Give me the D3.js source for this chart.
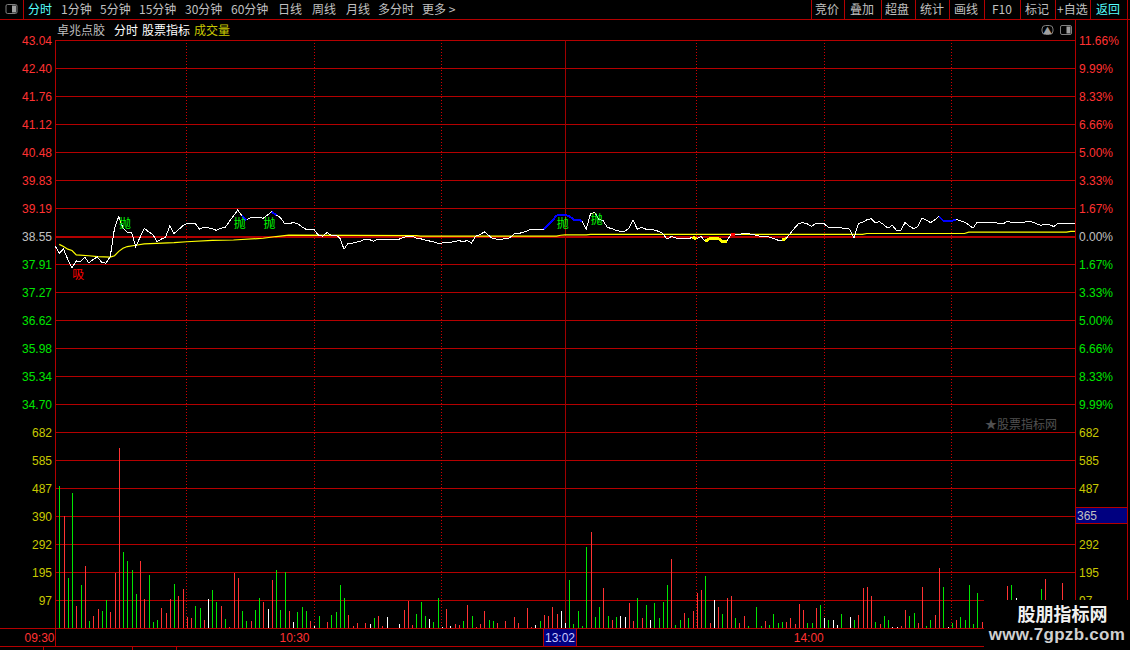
<!DOCTYPE html>
<html><head><meta charset="utf-8">
<script src="https://cdn.jsdelivr.net/npm/d3@7/dist/d3.min.js"></script>
<style>
html,body{margin:0;padding:0;background:#000;overflow:hidden}
svg{display:block}
text{font-family:"Liberation Sans","Noto Sans CJK SC",sans-serif;font-size:12px}
.cjk{font-family:"Noto Sans CJK SC",sans-serif}
</style></head><body><svg id="c" width="1130" height="650"></svg>
<script>
// ---------- data ----------
const leftLabels = ["43.04","42.40","41.76","41.12","40.48","39.83","39.19","38.55","37.91","37.27","36.62","35.98","35.34","34.70","682","585","487","390","292","195","97",""];
const rightLabels = ["11.66%","9.99%","8.33%","6.66%","5.00%","3.33%","1.67%","0.00%","1.67%","3.33%","5.00%","6.66%","8.33%","9.99%","682","585","487","390","292","195","97",""];
const timeTicks = [0,60,181];
const timeLabels = ["09:30","10:30","14:00"];
const sessionLines = [31,61,91,151,181,211];
const crosshairTime = "13:02";
const crosshairVolume = "365";
// minute index 0..240
const prices = [
38.35,38.18,38.27,38.04,37.84,38.00,37.99,38.09,37.95,38.04,
38.09,37.97,37.95,38.10,38.75,39.02,38.75,38.66,38.66,38.33,
38.54,38.75,38.67,38.61,38.44,38.50,38.54,38.80,38.63,38.71,
38.80,38.86,38.86,38.86,38.73,38.77,38.76,38.74,38.70,38.75,
38.77,38.90,39.03,39.17,39.03,38.94,38.99,39.00,39.00,38.98,
39.05,39.13,39.05,39.00,38.86,38.85,38.88,38.86,38.79,38.73,
38.71,38.71,38.59,38.57,38.65,38.59,38.59,38.53,38.27,38.41,
38.41,38.43,38.46,38.50,38.49,38.45,38.50,38.50,38.50,38.50,
38.50,38.50,38.54,38.57,38.57,38.52,38.51,38.48,38.46,38.44,
38.41,38.41,38.42,38.43,38.44,38.47,38.44,38.47,38.41,38.57,
38.60,38.67,38.59,38.51,38.50,38.50,38.51,38.53,38.62,38.63,
38.65,38.68,38.73,38.73,38.73,38.73,38.82,38.92,39.04,39.05,
39.05,39.03,38.95,38.94,38.92,38.73,39.08,39.11,38.95,38.92,
38.76,38.75,38.70,38.68,38.68,38.74,38.94,38.73,38.77,38.73,
38.73,38.71,38.68,38.63,38.50,38.56,38.53,38.51,38.51,38.51,
38.54,38.51,38.56,38.45,38.51,38.52,38.52,38.45,38.45,38.60,
38.60,38.61,38.63,38.63,38.61,38.59,38.56,38.56,38.55,38.52,
38.48,38.48,38.51,38.63,38.75,38.86,38.88,38.85,38.79,38.86,
38.86,38.85,38.77,38.77,38.77,38.76,38.74,38.73,38.52,38.85,
38.89,38.94,38.97,38.88,38.90,38.83,38.75,38.82,38.70,38.70,
38.88,38.80,38.74,38.79,38.98,38.94,38.88,38.94,39.02,38.92,
38.92,38.92,38.95,38.92,38.89,38.83,38.75,38.89,38.89,38.89,
38.87,38.89,38.86,38.85,38.90,38.89,38.89,38.89,38.89,38.91,
38.89,38.85,38.82,38.84,38.83,38.79,38.86,38.86,38.86,38.86,38.86];
// average line: minutes where it changes and its level there
const avgMinutes = [1,2,3,4,5,8,10,13,14,15,16,17,19,21,28,31,37,42,49,52,55,85,86,118,119,120,125,126,190,191,214,215,238,239,240];
const avgPrices = [38.38,38.33,38.27,38.24,38.14,38.12,38.10,38.09,38.12,38.22,38.29,38.33,38.36,38.39,38.42,38.44,38.47,38.48,38.52,38.56,38.59,38.58,38.57,38.57,38.59,38.60,38.60,38.61,38.61,38.63,38.63,38.66,38.66,38.68,38.68];
// minute 1..240
const volumes = [
495,391,175,471,78,151,217,26,43,67,
60,99,57,192,626,265,234,203,120,234,
102,186,22,29,71,53,102,154,113,137,
39,36,78,71,29,102,133,92,78,32,
5,192,175,60,26,26,64,106,92,67,
168,203,64,196,60,22,57,73,59,24,
7,42,0,21,45,56,150,104,45,7,
17,0,17,14,35,42,7,38,0,0,
14,63,94,10,49,90,42,31,21,104,
3,66,7,14,10,24,80,42,3,14,
59,28,24,17,0,24,0,38,17,0,
70,3,10,24,45,42,73,49,59,17,
167,14,59,7,282,334,38,73,139,42,
28,38,42,38,87,24,104,35,80,28,
87,35,90,150,240,10,28,52,35,59,
122,132,181,17,97,73,49,104,111,35,
17,42,7,0,73,7,24,10,49,17,
21,21,35,14,84,63,17,17,70,80,
35,28,28,10,49,0,38,28,45,139,
143,111,21,14,42,28,3,3,7,63,
42,52,17,143,7,28,45,209,143,3,
17,28,38,28,150,14,122,21,0,0,
0,0,0,146,150,104,0,0,0,0,
0,136,171,0,0,0,157,0,0,0];
const volumeKinds = (
"grggrgrgrr"+"ggrrrggggr"+"rgggrrrgrr"+"rrggrwggrg"+"rrrggrggrw"+
"rgggrwgggr"+"wg-rggggrr"+"r-rwgrrw--"+"wrrrgggwgg"+"wrwrrgrgrr"+
"rggr-r-rr-"+"rrwgrrrrww"+"gggggrggrg"+"rgwwrrgrgw"+"ggggrggrgr"+
"rrgrwrgrrg"+"rrg-ggrggg"+"grrrrrggrg"+"wgwwg-wgrr"+"rrgrggwwrr"+
"ggrrggrrgw"+"grgggggrg-"+"---rgw----"+"-gr---r---").split("");
const sellRuns = [[44,45],[51,52],[115,124],[208,212]];
const bandRuns = [[150,151],[153,158],[171,172]];
const buyRuns = [[159,160]];
const sellMarks = [16,43,50,119,127];
const sellMarkPrices = [38.86,38.86,38.86,38.86,38.95];
const buyMarks = [5];
const buyMarkPrices = [37.69];
const toolbarLeft = ["分时","1分钟","5分钟","15分钟","30分钟","60分钟","日线","周线","月线","多分时","更多 >"];
const toolbarRight = ["竞价","叠加","超盘","统计","画线","F10","标记","+自选","返回"];
const titleParts = ["卓兆点胶","分时","股票指标","成交量"];

// ---------- layout ----------
const RED="#b40000",TXT="#ff3232",GRN="#00e600",GRY="#c0c0c0",YEL="#c8c800";
const svg=d3.select("#c");
svg.append("rect").attr("width",1130).attr("height",650).attr("fill","#000");
const x=d3.scaleLinear().domain([0,240]).range([55,1075]);
const yRow=d3.scalePoint().domain(leftLabels).range([40,628]);
const yPrice=d3.scaleLinear().domain([34.70,43.04]).range([405,41]);
const yVol=d3.scaleLinear().domain([0,682]).range([628,432]);
const rowColor=i=>i<7?TXT:i===7?GRY:i<14?GRN:YEL;

// frame
const hline=(y,a,b,w)=>svg.append("rect").attr("x",a).attr("width",b-a).attr("y",y).attr("height",w||1).attr("fill",RED).attr("shape-rendering","crispEdges");
const vline=(xp,a,b,c)=>svg.append("rect").attr("x",xp).attr("width",1).attr("y",a).attr("height",b-a).attr("fill",c||RED).attr("shape-rendering","crispEdges");
hline(19,0,1130);hline(628,0,1075);hline(646,0,984);
vline(23,0,19);vline(55,40,646);vline(1075,19,629);vline(1127,0,650);
[811,844,881,915,949,984,1020,1055,1090].forEach(p=>vline(p,0,19));
vline(43,646,650);vline(132,646,650);vline(176,646,650);

// left axis + grid
const leftAxis=d3.axisLeft(yRow).tickSize(-1020).tickPadding(3).tickSizeOuter(0).offset(0);
const gl=svg.append("g").attr("transform","translate(55,0)").call(leftAxis);
gl.select(".domain").remove();
gl.selectAll(".tick line").remove();
gl.selectAll(".tick text").attr("fill",(d,i)=>rowColor(i)).attr("font-size",12).attr("font-family","Liberation Sans").attr("y",1);
svg.append("g").selectAll("rect").data(leftLabels).join("rect")
 .attr("x",55).attr("width",1020).attr("y",d=>yRow(d)).attr("height",1).attr("fill",RED).attr("shape-rendering","crispEdges");
// right axis
const rightAxis=d3.axisRight(yRow).tickSize(0).tickPadding(4).offset(0).tickFormat(d=>rightLabels[leftLabels.indexOf(d)]);
const gr=svg.append("g").attr("transform","translate(1075,0)").call(rightAxis);
gr.select(".domain").remove();
gr.selectAll(".tick text").attr("fill",(d,i)=>rowColor(i)).attr("font-size",12).attr("font-family","Liberation Sans").attr("y",1);
hline(236,55,1075,2);

// session separators + crosshair
svg.append("g").selectAll("line").data(sessionLines).join("line")
 .attr("x1",d=>Math.floor(x(d))+.5).attr("x2",d=>Math.floor(x(d))+.5).attr("y1",40).attr("y2",628)
 .attr("stroke","#d00000").attr("stroke-dasharray","1 2").attr("shape-rendering","crispEdges");
vline(565,40,628,"#a00000");

// volume bars
const volData=volumes.map((v,i)=>({k:i+1,v,t:volumeKinds[i]})).filter(d=>d.v>0);
svg.append("g").selectAll("rect").data(volData).join("rect")
 .attr("x",d=>Math.round(x(d.k))).attr("width",1)
 .attr("y",d=>Math.round(yVol(d.v))).attr("height",d=>628-Math.round(yVol(d.v)))
 .attr("shape-rendering","crispEdges")
 .attr("fill",d=>d.t==="r"?"#ff3232":d.t==="g"?GRN:"#fff");

// average + price lines
const pLine=d3.line().x(d=>x(d[0])).y(d=>yPrice(d[1]));
const pricePts=prices.map((p,i)=>[i,p]);
svg.append("path").attr("d",pLine(avgMinutes.map((m,i)=>[m,avgPrices[i]])))
 .attr("fill","none").attr("stroke","#ffff00").attr("stroke-width",1.2);
svg.append("path").attr("d",pLine(pricePts)).attr("fill","none").attr("stroke","#fff").attr("stroke-width",1).attr("shape-rendering","crispEdges");
const run=(r,c,w)=>r.forEach(([a,b])=>svg.append("path").attr("d",pLine(pricePts.slice(a,b+1))).attr("fill","none").attr("stroke",c).attr("stroke-width",w).attr("shape-rendering","crispEdges"));
run(sellRuns,"#0000ff",2);run(bandRuns,"#ffff00",3);run(buyRuns,"#ff0000",3);

// signal marks
svg.append("g").selectAll("text").data(sellMarks).join("text")
 .attr("class","cjk").attr("x",d=>x(d)+2).attr("y",(d,i)=>yPrice(sellMarkPrices[i])+4.5).attr("text-anchor","middle").attr("fill","#00ff00").text("抛");
svg.append("g").selectAll("text").data(buyMarks).join("text")
 .attr("class","cjk").attr("x",d=>x(d)+2).attr("y",(d,i)=>yPrice(buyMarkPrices[i])+4.5).attr("text-anchor","middle").attr("fill","#ff0000").text("吸");

// time axis
const tAxis=d3.axisBottom(x).tickValues(timeTicks).tickSize(0).tickPadding(4).offset(0).tickFormat((d,i)=>timeLabels[i]);
const gt=svg.append("g").attr("transform","translate(0,629)").call(tAxis);
gt.select(".domain").remove();
gt.selectAll(".tick text").attr("fill",TXT).attr("text-anchor","end").attr("font-size",12).attr("font-family","Liberation Sans").attr("dx",-0.5);

// crosshair readouts
svg.append("rect").attr("x",543).attr("y",628).attr("width",34).attr("height",18).attr("fill",RED).attr("shape-rendering","crispEdges");
svg.append("rect").attr("x",544).attr("y",629).attr("width",32).attr("height",17).attr("fill","#000080").attr("shape-rendering","crispEdges");
svg.append("text").attr("x",560).attr("y",642).attr("text-anchor","middle").attr("fill","#c8c8ff").text(crosshairTime);
svg.append("rect").attr("x",1076).attr("y",507).attr("width",51).attr("height",17).attr("fill","#000080").attr("shape-rendering","crispEdges");
hline(507,1076,1127);hline(523,1076,1127);
svg.append("text").attr("x",1077).attr("y",519.5).attr("fill",GRY).text(crosshairVolume);

// toolbars
const tlX=[28,61,100,139,185,231,278,312,346,378,422];
svg.append("g").selectAll("text").data(toolbarLeft).join("text").attr("class","cjk")
 .attr("x",(d,i)=>tlX[i]).attr("y",14).attr("fill",(d,i)=>i===0?"#55ffff":GRY).text(d=>d);
const trX=[815,850,885,920,954,992,1025,1057,1096];
svg.append("g").selectAll("text").data(toolbarRight).join("text").attr("class","cjk")
 .attr("x",(d,i)=>trX[i]).attr("y",14).attr("fill",(d,i)=>i===8?"#55ffff":GRY).text(d=>d);
const tpX=[57,114,142,194],tpC=[GRY,"#fff","#fff",YEL];
svg.append("g").selectAll("text").data(titleParts).join("text").attr("class","cjk")
 .attr("x",(d,i)=>tpX[i]).attr("y",35).attr("fill",(d,i)=>tpC[i]).text(d=>d);

// icons
const panel=(px,py)=>{svg.append("rect").attr("x",px).attr("y",py).attr("width",11).attr("height",9).attr("rx",1.5).attr("fill","none").attr("stroke","#808080").attr("stroke-width",1);
 svg.append("rect").attr("x",px+6).attr("y",py+1).attr("width",4).attr("height",7).attr("fill","#a0a0a0");};
panel(6,4.5);panel(1060.5,25.5);
svg.append("rect").attr("x",1042).attr("y",25.5).attr("width",11).attr("height",9).attr("rx",3.5).attr("fill","none").attr("stroke","#808080");
svg.append("text").attr("class","cjk").attr("x",1047.5).attr("y",33.5).attr("text-anchor","middle").attr("fill","#a0a0a0").style("font-size","9px").text("▲");

// watermark + logo
svg.append("text").attr("class","cjk").attr("x",985).attr("y",429).attr("fill","#505050").text("★股票指标网");
svg.append("rect").attr("x",984).attr("y",600).attr("width",146).attr("height",50).attr("fill","#000");
svg.append("text").attr("class","cjk").attr("x",1062.5).attr("y",621).attr("text-anchor","middle").attr("fill","#f0f0f0").attr("font-weight",700).style("font-size","18px").text("股朋指标网");
svg.append("text").attr("x",1057).attr("y",640).attr("text-anchor","middle").attr("fill","#d0d0d0").attr("font-weight",700).attr("letter-spacing",.3).style("font-size","17px").text("www.7gpzb.com");
</script></body></html>
